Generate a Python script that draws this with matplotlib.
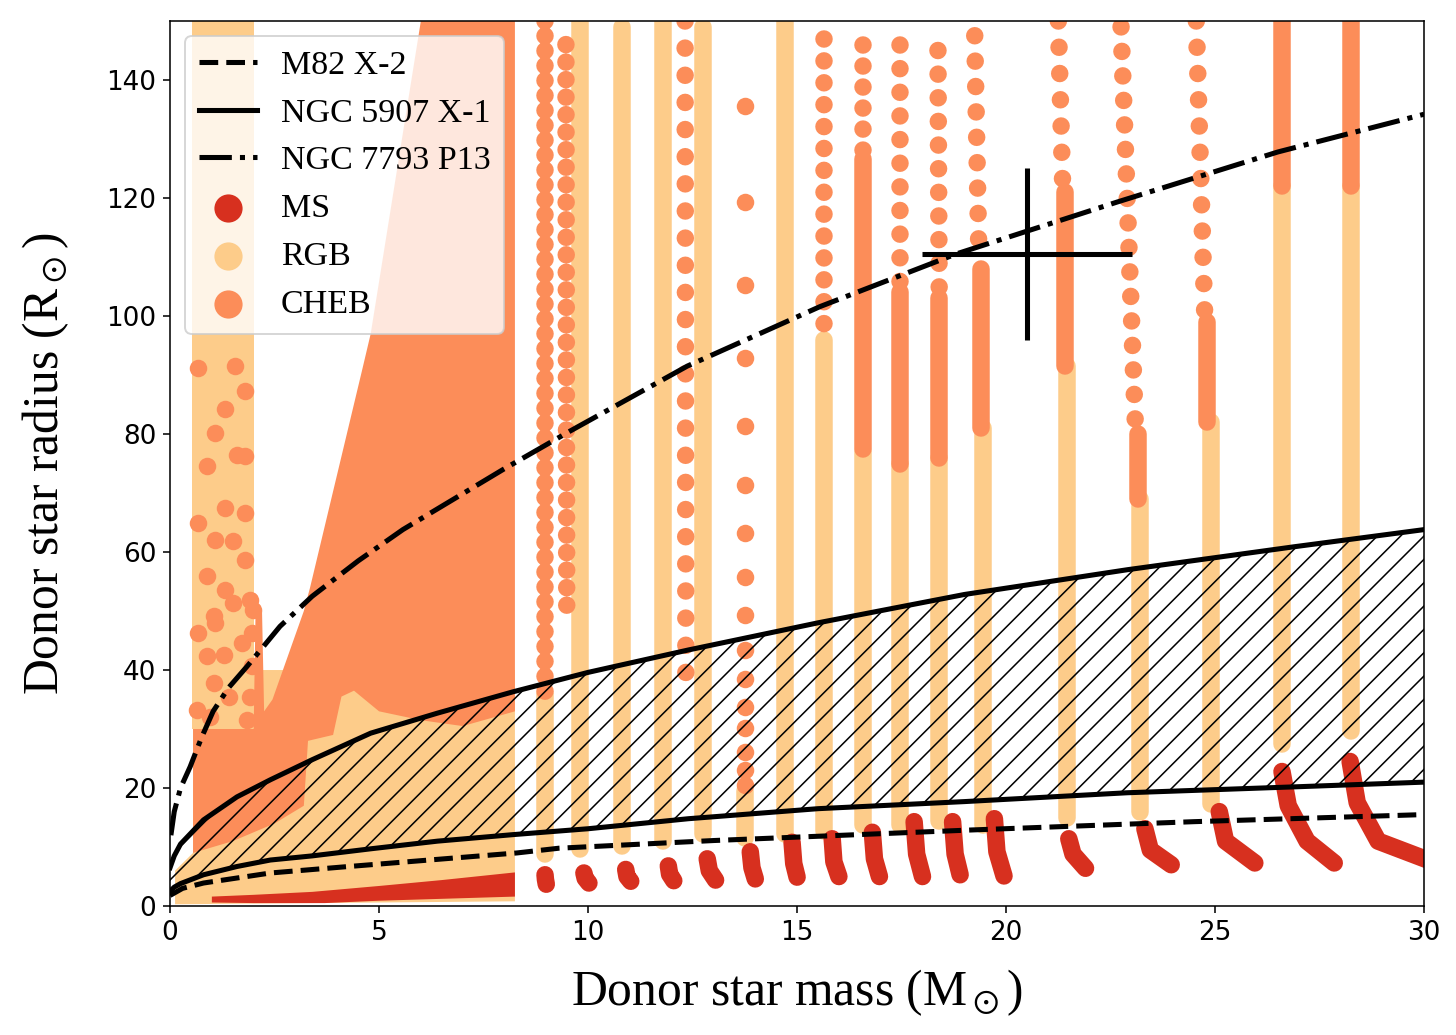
import matplotlib
matplotlib.use('Agg')
import matplotlib.pyplot as plt

plt.rcParams['mathtext.fontset'] = 'stix'
plt.rcParams['hatch.linewidth'] = 0.8

MS_COL = '#d7301f'
RGB_COL = '#fdcc8a'
CHEB_COL = '#fc8d59'
DOT = 9.0   # marker diameter in points

# ---- Roche lobe curves (mass Msun, radius Rsun)
m82_m = [0, 0.3, 0.8, 2.4, 4.1, 4.8, 8.3, 9.3, 13, 19.2, 24.5, 30]
m82_r = [1.8, 3.0, 3.9, 5.6, 6.6, 7.0, 9.0, 9.8, 11.1, 12.9, 14.3, 15.5]

n5907_m = [0, 0.1, 0.25, 0.8, 1.6, 2.4, 3.4, 4.8, 6.4, 8.2, 10, 12.4, 15.5, 19.0, 22.9, 26.9, 30]
n5907_hi = [6.5, 8.5, 10.5, 14.6, 18.5, 21.4, 24.8, 29.3, 32.7, 36.3, 39.6, 43.4, 48, 52.8, 57, 60.9, 63.8]
n5907_lo = [2.5, 3.2, 3.8, 5.3, 6.7, 7.8, 8.5, 9.7, 11.0, 12.1, 13.1, 14.8, 16.5, 17.7, 19.2, 20.2, 21]

p13_m = [0.02, 0.1, 0.25, 0.48, 0.75, 1.03, 1.4, 1.84, 2.63, 3.4, 4.5, 5.57, 7.97, 9.57,
         12.37, 15.55, 18.8, 22.65, 26.5, 30]
p13_r = [12, 16, 20, 23.6, 28.5, 33, 37, 40.6, 47.4, 52.5, 58.5, 63.8, 74, 80.5,
         91.5, 101.6, 110.5, 119.3, 127.8, 134.2]

# P13 donor estimate
star_m, star_r = 20.5, 110.5
star_merr, star_rerr = 2.5, 14.5

# ---- dense low-mass block (outlines of the overlapping tracks)
band_rgb_m = [0.12, 0.12, 0.55, 0.55, 8.25, 8.25]
band_rgb_r = [0.3, 6, 9, 40, 40, 0.8]
strip_rgb_m = [0.53, 0.53, 2.0, 2.0]
strip_rgb_r = [30, 152, 152, 30]
block_cheb_m = [0.55, 0.55, 2.0, 2.05, 2.2, 2.25, 2.45, 3.2, 3.35, 4.6, 4.8, 6.0, 6.0, 8.25,
                8.25, 7.0, 6.0, 5.0, 4.4, 4.1, 3.9, 3.3, 3.2, 2.5, 1.5]
block_cheb_r = [9, 30, 30, 52, 50, 33, 35, 50, 54, 91, 97, 150, 152, 152,
                33, 30.5, 31.5, 33, 36.5, 35.5, 29, 28, 17, 14, 11]
block_ms_m = [1.0, 1.0, 2.0, 3.4, 5.0, 6.5, 8.25, 8.25, 5.0, 3.7, 2.0]
block_ms_r = [0.6, 1.6, 1.9, 2.4, 3.4, 4.4, 5.7, 1.6, 0.9, 0.5, 0.5]

# CHEB points scattered over the low-mass RGB strip
strip_cheb_m = [0.68, 1.56, 1.79, 1.32, 1.08, 0.88, 1.60, 1.79, 1.32, 1.79, 0.68, 1.08, 1.51,
                1.79, 0.88, 1.32, 1.51, 1.91, 1.99, 1.04, 1.08, 0.68, 1.95, 0.88, 1.28,
                1.71, 1.95, 1.04, 1.40, 1.91, 0.64, 0.96, 1.83]
strip_cheb_r = [91.2, 91.5, 87.3, 84.2, 80.2, 74.5, 76.5, 76.2, 67.5, 66.6, 64.9, 62.1, 61.8,
                58.7, 55.9, 53.6, 51.4, 51.9, 50.2, 49.1, 48, 46.3, 46.3, 42.3, 42.6,
                44.6, 40.6, 37.8, 35.5, 35.5, 33.3, 32.1, 31.6]

# ---- individual tracks above 8 Msun
rgb_m = [8.97, 9.8, 10.81, 11.79, 12.75, 13.76, 14.71, 15.65, 16.58, 17.46, 18.4,
         19.45, 21.45, 23.2, 24.9, 26.6, 28.25]
rgb_lo = [8.8, 9.6, 10.1, 11.0, 12.2, 11.6, 12.2, 12.7, 13.8, 13.8, 14.4,
          13.8, 14.9, 16.0, 17.3, 27.5, 29.7]
rgb_hi = [36, 150, 149, 150, 149, 19.5, 150, 96, 77, 75, 76,
          81, 91.5, 69, 82, 122, 122]

cheb_dense_m = [16.58, 17.46, 18.4, 19.4, 21.4, 23.15, 24.8, 26.6, 28.25]
cheb_dense_lo = [77.4, 75, 76, 81, 91.5, 69, 82, 122, 122]
cheb_dense_hi = [126.6, 104, 103, 108, 121, 80, 99, 152, 152]

# dotted CHEB runs: top point, bottom point, spacing (in dot diameters)
cheb_run_mtop = [8.97, 9.47, 12.32, 15.65, 16.58, 17.46, 18.37, 19.25, 21.25, 22.75, 24.55]
cheb_run_rtop = [150, 146, 150, 147, 146, 146, 145, 147.5, 150, 149, 150]
cheb_run_mbot = [8.97, 9.49, 12.34, 15.65, 16.58, 17.46, 18.4, 19.35, 21.35, 23.1, 24.75]
cheb_run_rbot = [35.5, 48.5, 35.5, 96, 126.6, 104, 103.5, 110, 123, 80, 100.6]
cheb_run_gap = [0.85, 1.0, 1.55, 1.25, 1.2, 1.35, 1.35, 1.45, 1.5, 1.4, 1.5]

# the sparse 13.8 Msun CHEB track
sparse_m = 13.76
sparse_r = [135.6, 119.3, 105.2, 92.8, 81.3, 71.4, 63.3, 55.7, 49.4, 43.4, 38.4,
            33.8, 30.2, 26.1, 23.1, 20.5]

# main-sequence hooks
hook_m = [[8.97, 8.98, 9.0], [9.9, 9.93, 10.02], [10.9, 10.93, 11.02],
          [11.92, 11.95, 12.05], [12.85, 12.9, 13.05], [13.88, 13.92, 14.0],
          [14.88, 14.92, 15.0], [15.84, 15.88, 16.0], [16.8, 16.85, 16.97],
          [17.8, 17.86, 18.0], [18.72, 18.78, 18.9], [19.72, 19.78, 19.95],
          [21.5, 21.6, 21.9], [23.32, 23.45, 23.95], [25.1, 25.25, 25.95],
          [26.6, 26.75, 27.2, 27.85], [28.23, 28.4, 28.9, 30.2]]
hook_r = [[5.3, 4.5, 3.7], [5.6, 4.7, 3.9], [6.2, 5.0, 4.2],
          [6.8, 5.4, 4.3], [8.0, 6.0, 4.4], [9.2, 6.5, 4.6],
          [10.8, 7.2, 4.9], [11.4, 7.5, 5.0], [12.5, 8.0, 5.0],
          [14.3, 8.8, 5.0], [14.3, 8.8, 5.3], [14.8, 9.2, 5.1],
          [11.4, 8.8, 6.4], [13.1, 9.5, 7.0], [16.0, 11.0, 7.3],
          [22.8, 17.0, 11.0, 7.3], [24.5, 17.5, 11.0, 7.5]]


fig = plt.figure(figsize=(10.4, 7.393), dpi=140)
ax = fig.add_axes([0.1168, 0.1246, 0.8613, 0.8551])

# dense block
ax.fill(band_rgb_m, band_rgb_r, color=RGB_COL, lw=0, zorder=1)
ax.fill(strip_rgb_m, strip_rgb_r, color=RGB_COL, lw=0, zorder=1)
ax.fill(block_cheb_m, block_cheb_r, color=CHEB_COL, lw=0, zorder=1.1)
ax.scatter(strip_cheb_m, strip_cheb_r, s=DOT**2, color=CHEB_COL, lw=0, zorder=1.2)
ax.fill(block_ms_m, block_ms_r, color=MS_COL, lw=0, zorder=1.3)

# single tracks
for m, lo, hi in zip(rgb_m, rgb_lo, rgb_hi):
    ax.plot([m, m], [lo, hi], color=RGB_COL, lw=DOT, solid_capstyle='round', zorder=1.5)
for m, lo, hi in zip(cheb_dense_m, cheb_dense_lo, cheb_dense_hi):
    ax.plot([m, m], [lo, hi], color=CHEB_COL, lw=DOT, solid_capstyle='round', zorder=1.6)
for m0, r0, m1, r1, g in zip(cheb_run_mtop, cheb_run_rtop, cheb_run_mbot, cheb_run_rbot, cheb_run_gap):
    ax.plot([m0, m1], [r0, r1], color=CHEB_COL, lw=DOT, linestyle=(0, (0.001, g)),
            dash_capstyle='round', zorder=1.6)
ax.scatter([sparse_m] * len(sparse_r), sparse_r, s=DOT**2, color=CHEB_COL, lw=0, zorder=1.6)
for hm, hr in zip(hook_m, hook_r):
    ax.plot(hm, hr, color=MS_COL, lw=DOT, solid_capstyle='round',
            solid_joinstyle='round', zorder=1.7)

# Roche lobe curves
ax.plot(m82_m, m82_r, 'k--', lw=2.6, label='M82 X-2', zorder=3)
ax.plot(n5907_m, n5907_hi, 'k-', lw=2.6, label='NGC 5907 X-1', zorder=3)
ax.plot(n5907_m, n5907_lo, 'k-', lw=2.6, zorder=3)
ax.fill_between(n5907_m, n5907_lo, n5907_hi, facecolor='none', edgecolor='k',
                hatch='//', lw=0, zorder=2.9)
ax.plot(p13_m, p13_r, 'k-.', lw=2.6, label='NGC 7793 P13', zorder=3)

ax.errorbar(star_m, star_r, xerr=star_merr, yerr=star_rerr, fmt='none',
            ecolor='k', elinewidth=2.6, capsize=0, zorder=4)

# legend proxies for the stellar phases
ax.scatter([], [], s=14.5**2, color=MS_COL, lw=0, label='MS')
ax.scatter([], [], s=14.5**2, color=RGB_COL, lw=0, label='RGB')
ax.scatter([], [], s=14.5**2, color=CHEB_COL, lw=0, label='CHEB')

ax.set_xlim(0, 30)
ax.set_ylim(0, 150)
ax.set_xticks([0, 5, 10, 15, 20, 25, 30])
ax.set_yticks([0, 20, 40, 60, 80, 100, 120, 140])
ax.tick_params(labelsize=13.5)
ax.set_xlabel(r'Donor star mass (M$_\odot$)', fontsize=25.5, family='Liberation Serif',
              labelpad=11)
ax.set_ylabel(r'Donor star radius (R$_\odot$)', fontsize=25.5, family='Liberation Serif',
              labelpad=18)

leg = ax.legend(loc='upper left', prop={'family': 'Liberation Serif', 'size': 17.5},
                labelspacing=0.5, handlelength=1.7, handletextpad=0.7,
                borderaxespad=0.45, borderpad=0.4)
leg.set_zorder(5)

fig.savefig('out.png', dpi=140)
